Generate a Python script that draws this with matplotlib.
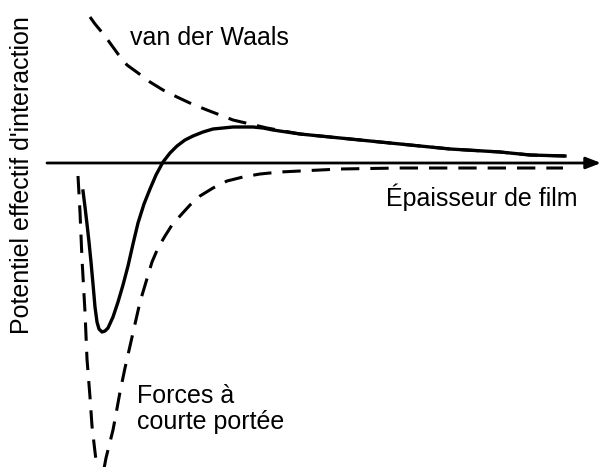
import numpy as np
import matplotlib.pyplot as plt

plt.rcParams['font.family'] = ['Liberation Sans', 'DejaVu Sans']

# schematic curves (x: thickness, y: potential, axis at 0)
total_x = [83, 85, 87, 89, 91, 93, 95, 97, 99, 102, 105, 108, 113, 118, 123, 128, 133, 138,
           144, 150, 156, 163, 170, 177, 185, 193, 203, 213, 223, 233, 243, 253, 263, 273,
           300, 350, 400, 450, 500, 530, 565]
total_y = [-29, -45, -62, -80, -100, -122, -145, -160, -167, -170, -169, -166, -155, -140,
           -123, -104, -82, -61, -42, -27, -13, 0, 9, 16, 22, 26, 30, 33, 34, 35, 35, 35, 34, 32,
           28, 23, 18, 13, 10, 7, 6]

vdw_x = [90, 95, 100, 105, 110, 118, 127, 138, 150, 163, 177, 192, 207, 220, 233, 250, 267,
         300, 350, 400, 450, 500, 530, 565]
vdw_y = [145, 138, 132, 126, 119, 108, 97, 89, 80, 72, 65, 58, 52, 47, 42, 38, 34, 28, 23,
         18, 13, 10, 7, 6]

short_x = [78, 80, 82, 85, 87, 90, 92, 95, 98, 100, 103, 106, 110, 113, 116, 120, 125, 130,
           135, 140, 146, 152, 158, 165, 172, 180, 190, 200, 213, 227, 243, 260, 280, 300,
           340, 400, 480, 563]
short_y = [-14, -50, -97, -150, -197, -235, -264, -290, -315, -325, -312, -296, -280, -268,
           -252, -230, -206, -184, -162, -140, -120, -100, -86, -74, -63, -54, -43, -34, -26,
           -19, -15, -12, -10, -9, -7, -6, -6, -6]

fig = plt.figure(figsize=(6, 4.67), dpi=100)
ax = fig.add_axes([0, 0, 1, 1])
ax.set_xlim(0, 600)
ax.set_ylim(-305, 162)
ax.axis('off')

dash = (0, (6, 3.6))
ax.plot(total_x, total_y, color='black', lw=2.4, solid_joinstyle='round')
ax.plot(vdw_x, vdw_y, color='black', lw=2.2, ls=dash)
ax.plot(short_x, short_y, color='black', lw=2.2, ls=dash)

# horizontal axis with arrow
ax.annotate('', xy=(601, -1), xytext=(47, -1), annotation_clip=False,
            arrowprops=dict(arrowstyle='-|>,head_length=0.9,head_width=0.35',
                            color='black', lw=2, shrinkA=0, shrinkB=0))

fs = 18
ax.text(130, 124, 'van der Waals', fontsize=fs, va='center', ha='left')
ax.text(577, -35, 'Épaisseur de film', fontsize=fs, va='center', ha='right')
ax.text(137, -247, 'Forces à\ncourte portée', fontsize=fs, va='center', ha='left',
        linespacing=1.1)
ax.text(22, -13, "Potentiel effectif d'interaction", fontsize=fs, rotation=90,
        va='center', ha='center')

fig.savefig('out.png', dpi=100)
